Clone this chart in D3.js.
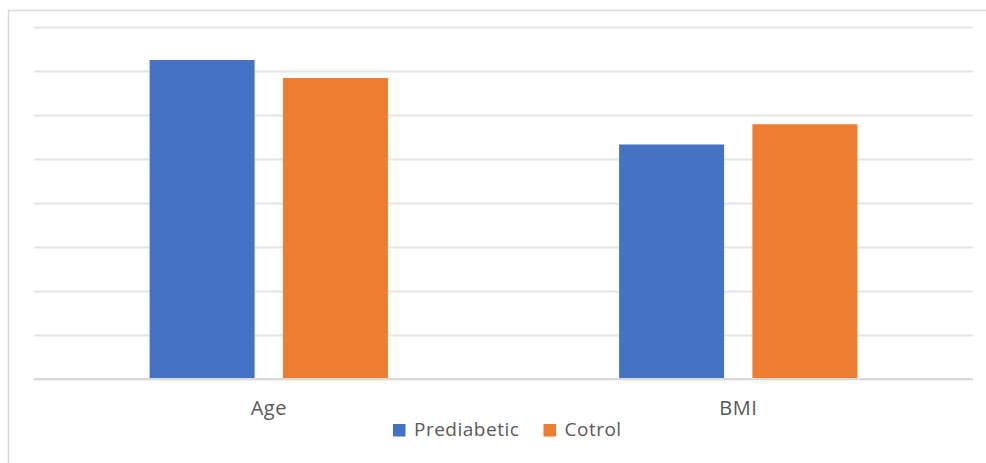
<!DOCTYPE html>
<html>
<head>
<meta charset="utf-8">
<script src="https://cdn.jsdelivr.net/npm/d3@7"></script>
<style>
  html, body { margin: 0; padding: 0; background: #fff; }
  svg { display: block; }
</style>
</head>
<body>
<svg id="chart" width="986" height="463"></svg>
<script>
const categories = ["Age", "BMI"];
const seriesNames = ["Prediabetic", "Cotrol"];
const prediabetic = [7.25, 5.33];
const cotrol = [6.84, 5.79];
const yTicks = [0, 1, 2, 3, 4, 5, 6, 7, 8];
const colors = ["#4472C4", "#ED7D31"];

const svg = d3.select("#chart");
const W = 986, H = 463;
const plot = { left: 34, right: 973, top: 27, bottom: 379 };

// outer chart border
svg.append("rect")
  .attr("x", 8.5).attr("y", 10.5)
  .attr("width", W + 10).attr("height", H + 10)
  .attr("fill", "none").attr("stroke", "#d9d9d9").attr("stroke-width", 1.5);

const x0 = d3.scaleBand().domain(categories).range([plot.left, plot.right]).paddingInner(0).paddingOuter(0);
const y = d3.scaleLinear().domain([0, 8]).range([plot.bottom, plot.top]);

// gridlines via axis
const yAxis = d3.axisLeft(y).tickValues(yTicks).tickSize(-(plot.right - plot.left)).tickFormat("");
const gy = svg.append("g").attr("transform", `translate(${plot.left},0)`).call(yAxis);
gy.select(".domain").remove();
gy.selectAll(".tick line").attr("stroke", "#e3e3e3").attr("stroke-width", 2);

const data = categories.map((c, i) => ({ cat: c, values: [prediabetic[i], cotrol[i]] }));

const bw = x0.bandwidth();
const barW = bw * 0.2236;
const gap = barW * 0.27;
const groupW = barW * 2 + gap;

const x1 = d3.scaleOrdinal().domain([0, 1]).range([0, barW + gap]);

const groups = svg.append("g").selectAll("g").data(data).join("g")
  .attr("transform", d => `translate(${x0(d.cat) + (bw - groupW) / 2},0)`);

groups.selectAll("rect").data(d => d.values.map((v, i) => ({ v, i }))).join("rect")
  .attr("x", d => x1(d.i))
  .attr("y", d => y(d.v))
  .attr("width", barW)
  .attr("height", d => y(0) - y(d.v))
  .attr("fill", d => colors[d.i]);

// baseline
svg.append("line")
  .attr("x1", plot.left).attr("x2", plot.right)
  .attr("y1", y(0)).attr("y2", y(0))
  .attr("stroke", "#d9d9d9").attr("stroke-width", 2);

// category labels
const xAxis = d3.axisBottom(x0).tickSize(0).tickPadding(0);
const gx = svg.append("g").attr("transform", `translate(0,${plot.bottom})`).call(xAxis);
gx.select(".domain").remove();
gx.selectAll("text")
  .attr("dy", null).attr("y", 35.5)
  .attr("fill", "#595959")
  .style("font-family", "'Open Sans', sans-serif")
  .style("font-size", "20px")
  .style("letter-spacing", "0.5px");

// legend
const legendItems = [{ name: seriesNames[0], x: 393 }, { name: seriesNames[1], x: 543.5 }];
const lg = svg.append("g");
legendItems.forEach((it, i) => {
  lg.append("rect").attr("x", it.x).attr("y", 424).attr("width", 12.5).attr("height", 12.5).attr("fill", colors[i]);
  lg.append("text").attr("x", it.x + 21).attr("y", 436)
    .attr("fill", "#595959")
    .style("font-family", "'Open Sans', sans-serif")
    .style("font-size", "19px")
    .style("letter-spacing", "0.5px")
    .text(it.name);
});
</script>
</body>
</html>
